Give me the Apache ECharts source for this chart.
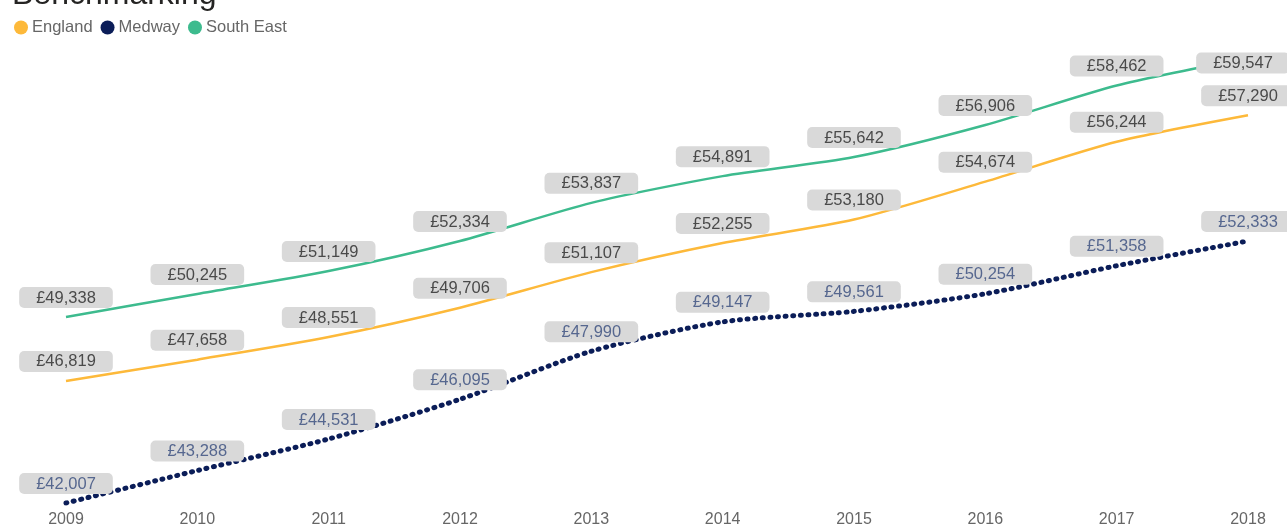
<!DOCTYPE html>
<html>
<head>
<meta charset="utf-8">
<script src="https://cdn.jsdelivr.net/npm/echarts@6/dist/echarts.min.js"></script>
<style>
html,body{margin:0;padding:0;background:#fff;}
#chart{width:1287px;height:527px;}
</style>
</head>
<body>
<div id="chart"></div>
<script>
const years = ['2009','2010','2011','2012','2013','2014','2015','2016','2017','2018'];
const england = [46819, 47658, 48551, 49706, 51107, 52255, 53180, 54674, 56244, 57290];
const medway = [42007, 43288, 44531, 46095, 47990, 49147, 49561, 50254, 51358, 52333];
const southEast = [49338, 50245, 51149, 52334, 53837, 54891, 55642, 56906, 58462, 59547];

const fmt = v => '£' + Number(v).toLocaleString('en-GB');
const FONT = 'Liberation Sans, Arial, sans-serif';

function labelCfg(color) {
  return {
    show: true,
    position: 'top',
    distance: 9,
    formatter: p => fmt(p.value),
    color: color,
    fontFamily: FONT,
    fontSize: 16.5,
    lineHeight: 16,
    backgroundColor: '#d9d9d9',
    borderRadius: 5,
    padding: [3, 17, 2, 17]
  };
}

const seData = southEast.map((v, i) => i === southEast.length - 1
  ? { value: v, label: { position: 'inside', offset: [-5, 5] } }
  : v);

const chart = echarts.init(document.getElementById('chart'), null, { renderer: 'canvas' });
chart.setOption({
  animation: false,
  title: {
    text: 'Benchmarking',
    left: 7,
    top: -26,
    textStyle: { fontFamily: FONT, fontSize: 32, fontWeight: 'normal', color: '#252423' }
  },
  legend: {
    left: 9,
    top: 14,
    icon: 'circle',
    itemWidth: 14,
    itemHeight: 14,
    itemGap: 8,
    textStyle: { fontFamily: FONT, fontSize: 16.5, color: '#666666', padding: [0, 0, 0, -1] },
    data: ['England', 'Medway', 'South East']
  },
  grid: { left: 66, right: 39, top: 46.5, bottom: 23.8, containLabel: false, outerBoundsMode: 'none' },
  xAxis: {
    type: 'category',
    data: years,
    boundaryGap: false,
    axisLine: { show: false },
    axisTick: { show: false },
    axisLabel: { color: '#666666', fontSize: 16, fontFamily: FONT, margin: 8 }
  },
  yAxis: {
    type: 'value',
    min: 42000,
    max: 60000,
    show: false,
    splitLine: { show: false }
  },
  series: [
    {
      name: 'England', type: 'line', data: england, smooth: 0.25,
      showSymbol: true, symbol: 'circle', symbolSize: 0, color: '#fdb93a',
      lineStyle: { width: 2.5, color: '#fdb93a' },
      label: labelCfg('#4a4a4a')
    },
    {
      name: 'Medway', type: 'line', data: medway, smooth: 0.25,
      showSymbol: true, symbol: 'circle', symbolSize: 0, color: '#0b1d58',
      lineStyle: { width: 5, color: '#0b1d58', type: [1, 6.6], cap: 'round' },
      label: labelCfg('#56678f')
    },
    {
      name: 'South East', type: 'line', data: seData, smooth: 0.25,
      showSymbol: true, symbol: 'circle', symbolSize: 0, color: '#3dbb8e',
      lineStyle: { width: 2.5, color: '#3dbb8e' },
      label: labelCfg('#4a4a4a')
    }
  ]
});
</script>
</body>
</html>
